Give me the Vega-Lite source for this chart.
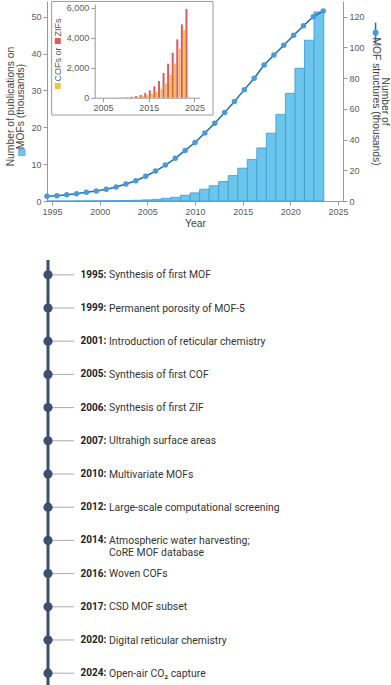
{
  "$schema": "https://vega.github.io/schema/vega-lite/v6.json",
  "padding": {"left": 5, "top": 0, "right": 0, "bottom": 0},
  "spacing": 29,
  "config": {
    "view": {"stroke": null},
    "font": "Liberation Sans",
    "axis": {"grid": false, "labelFont": "Liberation Sans", "labelFontSize": 9, "labelColor": "#5a5a5a", "titleFont": "Liberation Sans", "titleFontWeight": "normal", "titleFontSize": 10.3, "titleColor": "#444", "domainColor": "#999", "tickColor": "#999", "tickSize": 4, "labelPadding": 2}
  },
  "datasets": {
    "main": [
      {"year": 1995, "pubs": 0, "structures": 3.1},
      {"year": 1996, "pubs": 0, "structures": 3.45},
      {"year": 1997, "pubs": 0, "structures": 4.1},
      {"year": 1998, "pubs": 0.02, "structures": 4.75},
      {"year": 1999, "pubs": 0.03, "structures": 5.7},
      {"year": 2000, "pubs": 0.05, "structures": 6.5},
      {"year": 2001, "pubs": 0.08, "structures": 7.6},
      {"year": 2002, "pubs": 0.1, "structures": 9.1},
      {"year": 2003, "pubs": 0.15, "structures": 11.1},
      {"year": 2004, "pubs": 0.2, "structures": 13.2},
      {"year": 2005, "pubs": 0.3, "structures": 16.1},
      {"year": 2006, "pubs": 0.45, "structures": 19.5},
      {"year": 2007, "pubs": 0.73, "structures": 23.4},
      {"year": 2008, "pubs": 1.0, "structures": 27.8},
      {"year": 2009, "pubs": 1.55, "structures": 32.9},
      {"year": 2010, "pubs": 2.2, "structures": 38.1},
      {"year": 2011, "pubs": 3.2, "structures": 44.3},
      {"year": 2012, "pubs": 4.15, "structures": 50.6},
      {"year": 2013, "pubs": 5.3, "structures": 57.6},
      {"year": 2014, "pubs": 6.9, "structures": 64.8},
      {"year": 2015, "pubs": 8.9, "structures": 72.5},
      {"year": 2016, "pubs": 11.3, "structures": 79.9},
      {"year": 2017, "pubs": 14.4, "structures": 88.5},
      {"year": 2018, "pubs": 18.4, "structures": 95.1},
      {"year": 2019, "pubs": 23.5, "structures": 101.4},
      {"year": 2020, "pubs": 29.2, "structures": 107.9},
      {"year": 2021, "pubs": 36.0, "structures": 114.1},
      {"year": 2022, "pubs": 43.6, "structures": 120.0},
      {"year": 2023, "pubs": 51.3, "structures": 123.7}
    ],
    "inset": [
      {"year": 2005, "cofs": 0, "zifs": 0},
      {"year": 2006, "cofs": 0, "zifs": 2},
      {"year": 2007, "cofs": 2, "zifs": 5},
      {"year": 2008, "cofs": 5, "zifs": 10},
      {"year": 2009, "cofs": 8, "zifs": 20},
      {"year": 2010, "cofs": 10, "zifs": 30},
      {"year": 2011, "cofs": 20, "zifs": 60},
      {"year": 2012, "cofs": 40, "zifs": 110},
      {"year": 2013, "cofs": 60, "zifs": 180},
      {"year": 2014, "cofs": 100, "zifs": 310},
      {"year": 2015, "cofs": 180, "zifs": 490},
      {"year": 2016, "cofs": 270, "zifs": 760},
      {"year": 2017, "cofs": 400, "zifs": 1110},
      {"year": 2018, "cofs": 600, "zifs": 1650},
      {"year": 2019, "cofs": 960, "zifs": 2270},
      {"year": 2020, "cofs": 1510, "zifs": 3000},
      {"year": 2021, "cofs": 2270, "zifs": 3890},
      {"year": 2022, "cofs": 3270, "zifs": 4890},
      {"year": 2023, "cofs": 4510, "zifs": 5910}
    ],
    "events": [
      {"year": "1995:", "event": "Synthesis of first MOF"},
      {"year": "1999:", "event": "Permanent porosity of MOF-5"},
      {"year": "2001:", "event": "Introduction of reticular chemistry"},
      {"year": "2005:", "event": "Synthesis of first COF"},
      {"year": "2006:", "event": "Synthesis of first ZIF"},
      {"year": "2007:", "event": "Ultrahigh surface areas"},
      {"year": "2010:", "event": "Multivariate MOFs"},
      {"year": "2012:", "event": "Large-scale computational screening"},
      {"year": "2014:", "event": ["Atmospheric water harvesting;", "CoRE MOF database"]},
      {"year": "2016:", "event": "Woven COFs"},
      {"year": "2017:", "event": "CSD MOF subset"},
      {"year": "2020:", "event": "Digital reticular chemistry"},
      {"year": "2024:", "event": "Open-air CO₂ capture"}
    ],
    "one": [{"k": 1}]
  },
  "vconcat": [
    {
      "width": 296,
      "height": 200,
      "layer": [
        {
          "data": {"name": "main"},
          "mark": {"type": "bar", "width": 9.87, "fill": "#6cc6ec", "stroke": "#3d98d4", "strokeWidth": 0.8},
          "encoding": {
            "x": {"field": "year", "type": "quantitative", "scale": {"domain": [1995, 2025], "nice": false, "zero": false},
                  "axis": {"values": [1995, 2000, 2005, 2010, 2015, 2020, 2025], "format": "d", "title": "Year", "titlePadding": 2}},
            "y": {"field": "pubs", "type": "quantitative", "scale": {"domain": [0, 54.26], "nice": false},
                  "axis": {"orient": "left", "values": [0, 10, 20, 30, 40, 50], "title": ["Number of publications on", "\u00a0\u00a0\u00a0MOFs (thousands)"], "titlePadding": 5.5, "titleLineHeight": 10, "titleY": 105}}
          }
        },
        {
          "data": {"name": "main"},
          "mark": {"type": "line", "color": "#1b6fb0", "strokeWidth": 1.5, "point": {"filled": true, "size": 30, "color": "#4b9ad8"}},
          "encoding": {
            "x": {"field": "year", "type": "quantitative", "scale": {"domain": [1995, 2025], "nice": false, "zero": false}, "axis": null},
            "y": {"field": "structures", "type": "quantitative", "scale": {"domain": [0, 130.2], "nice": false},
                  "axis": {"orient": "right", "values": [0, 20, 40, 60, 80, 100, 120], "title": ["Number of", "\u00a0\u00a0\u00a0\u00a0\u00a0\u00a0\u00a0MOF structures (thousands)"], "titlePadding": 6, "titleLineHeight": 9}}
          }
        },
        {
          "data": {"name": "inset"},
          "mark": {"type": "bar", "width": 2, "xOffset": -1.1, "color": "#edc14a"},
          "encoding": {
            "x": {"field": "year", "type": "quantitative", "scale": {"domain": [2004.3, 2025], "range": [47.7, 152.5], "nice": false, "zero": false},
                  "axis": {"values": [2005, 2015, 2025], "format": "d", "title": null, "offset": -103.3, "orient": "bottom"}},
            "y": {"field": "cofs", "type": "quantitative", "scale": {"domain": [0, 6250], "range": [96.7, 3], "nice": false},
                  "axis": {"values": [0, 2000, 4000, 6000], "format": ",d", "title": null, "offset": -47.7, "orient": "left"}}
          }
        },
        {
          "data": {"name": "inset"},
          "mark": {"type": "bar", "width": 2, "xOffset": 1.1, "color": "#e0595b"},
          "encoding": {
            "x": {"field": "year", "type": "quantitative", "scale": {"domain": [2004.3, 2025], "range": [47.7, 152.5], "nice": false, "zero": false}, "axis": null},
            "y": {"field": "zifs", "type": "quantitative", "scale": {"domain": [0, 6250], "range": [96.7, 3], "nice": false}, "axis": null}
          }
        },
        {
          "data": {"name": "one"},
          "mark": {"type": "rect", "filled": false, "stroke": "#9a9a9a", "strokeWidth": 1, "clip": false},
          "encoding": {
            "x": {"datum": 1995.8, "type": "quantitative", "scale": {"domain": [2004.3, 2025], "range": [47.7, 152.5], "nice": false, "zero": false}, "axis": null},
            "x2": {"datum": 2027.67},
            "y": {"datum": -1153, "type": "quantitative", "scale": {"domain": [0, 6250], "range": [96.7, 3], "nice": false}, "axis": null},
            "y2": {"datum": 6420}
          }
        },
        {
          "data": {"name": "one"},
          "mark": {"type": "text", "angle": 270, "align": "left", "baseline": "middle", "fontSize": 9, "color": "#555", "clip": false, "text": "COFs or"},
          "encoding": {
            "x": {"datum": 1997.0, "type": "quantitative", "scale": {"domain": [2004.3, 2025], "range": [47.7, 152.5], "nice": false, "zero": false}, "axis": null},
            "y": {"datum": 1080, "type": "quantitative", "scale": {"domain": [0, 6250], "range": [96.7, 3], "nice": false}, "axis": null}
          }
        },
        {
          "data": {"name": "one"},
          "mark": {"type": "text", "angle": 270, "align": "left", "baseline": "middle", "fontSize": 9, "color": "#555", "clip": false, "text": "ZIFs"},
          "encoding": {
            "x": {"datum": 1997.0, "type": "quantitative", "scale": {"domain": [2004.3, 2025], "range": [47.7, 152.5], "nice": false, "zero": false}, "axis": null},
            "y": {"datum": 4080, "type": "quantitative", "scale": {"domain": [0, 6250], "range": [96.7, 3], "nice": false}, "axis": null}
          }
        },
        {
          "data": {"name": "one"},
          "mark": {"type": "point", "shape": "square", "filled": true, "size": 36, "color": "#edc14a", "opacity": 1, "clip": false},
          "encoding": {
            "x": {"datum": 1997.0, "type": "quantitative", "scale": {"domain": [2004.3, 2025], "range": [47.7, 152.5], "nice": false, "zero": false}, "axis": null},
            "y": {"datum": 780, "type": "quantitative", "scale": {"domain": [0, 6250], "range": [96.7, 3], "nice": false}, "axis": null}
          }
        },
        {
          "data": {"name": "one"},
          "mark": {"type": "point", "shape": "square", "filled": true, "size": 36, "color": "#e0595b", "opacity": 1, "clip": false},
          "encoding": {
            "x": {"datum": 1997.0, "type": "quantitative", "scale": {"domain": [2004.3, 2025], "range": [47.7, 152.5], "nice": false, "zero": false}, "axis": null},
            "y": {"datum": 3780, "type": "quantitative", "scale": {"domain": [0, 6250], "range": [96.7, 3], "nice": false}, "axis": null}
          }
        },
        {
          "data": {"name": "one"},
          "mark": {"type": "point", "shape": "square", "filled": true, "size": 42, "color": "#6cc6ec", "stroke": "#3d98d4", "strokeWidth": 0.6, "opacity": 1, "clip": false},
          "encoding": {
            "x": {"datum": 1992.45, "type": "quantitative", "scale": {"domain": [1995, 2025], "nice": false, "zero": false}, "axis": null},
            "y": {"datum": 13.2, "type": "quantitative", "scale": {"domain": [0, 54.26], "nice": false}, "axis": null}
          }
        },
        {
          "data": {"name": "one"},
          "mark": {"type": "rule", "color": "#1b6fb0", "strokeWidth": 1.5, "clip": false},
          "encoding": {
            "x": {"datum": 2028.3, "type": "quantitative", "scale": {"domain": [1995, 2025], "nice": false, "zero": false}, "axis": null},
            "y": {"datum": 116.1, "type": "quantitative", "scale": {"domain": [0, 130.2], "nice": false}, "axis": null},
            "y2": {"datum": 102.4}
          }
        },
        {
          "data": {"name": "one"},
          "mark": {"type": "point", "filled": true, "size": 36, "color": "#4b9ad8", "opacity": 1, "clip": false},
          "encoding": {
            "x": {"datum": 2028.3, "type": "quantitative", "scale": {"domain": [1995, 2025], "nice": false, "zero": false}, "axis": null},
            "y": {"datum": 109.6, "type": "quantitative", "scale": {"domain": [0, 130.2], "nice": false}, "axis": null}
          }
        }
      ],
      "resolve": {"scale": {"x": "independent", "y": "independent"}, "axis": {"x": "independent", "y": "independent"}}
    },
    {
      "width": 296,
      "height": 428,
      "data": {"name": "events"},
      "encoding": {
        "y": {"field": "year", "type": "ordinal", "sort": null, "scale": {"type": "point", "padding": 0.446}, "axis": null}
      },
      "layer": [
        {"data": {"name": "one"}, "mark": {"type": "rule", "color": "#3e4f6d", "strokeWidth": 3},
         "encoding": {"x": {"datum": 1, "type": "quantitative", "scale": {"domain": [0, 296], "nice": false}, "axis": null}, "y": null}},
        {"mark": {"type": "rule", "color": "#aaaaaa", "strokeWidth": 1},
         "encoding": {"x": {"datum": 1, "type": "quantitative", "scale": {"domain": [0, 296], "nice": false}, "axis": null}, "x2": {"datum": 27}}},
        {"mark": {"type": "circle", "size": 85, "color": "#3e4f6d", "opacity": 1},
         "encoding": {"x": {"datum": 1, "type": "quantitative", "scale": {"domain": [0, 296], "nice": false}, "axis": null}}},
        {"mark": {"type": "text", "align": "left", "baseline": "middle", "font": "Roboto", "fontSize": 10, "fontWeight": "bold", "color": "#222"},
         "encoding": {"x": {"datum": 33.5, "type": "quantitative", "scale": {"domain": [0, 296], "nice": false}, "axis": null}, "text": {"field": "year"}}},
        {"mark": {"type": "text", "align": "left", "baseline": "alphabetic", "dy": 3.6, "lineHeight": 12, "font": "Roboto", "fontSize": 10.4, "color": "#333"},
         "encoding": {"x": {"datum": 62, "type": "quantitative", "scale": {"domain": [0, 296], "nice": false}, "axis": null}, "text": {"field": "event"}}}
      ]
    }
  ]
}
